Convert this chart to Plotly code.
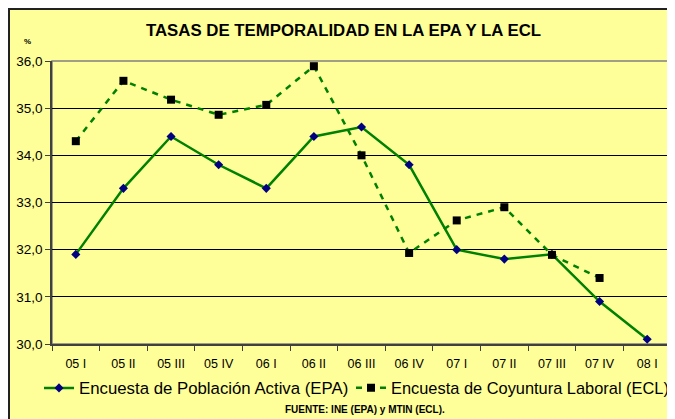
import plotly.graph_objects as go

categories = ["05 I", "05 II", "05 III", "05 IV", "06 I", "06 II", "06 III",
              "06 IV", "07 I", "07 II", "07 III", "07 IV", "08 I"]
epa = [31.9, 33.3, 34.4, 33.8, 33.3, 34.4, 34.6, 33.8, 32.0, 31.8, 31.9, 30.9, 30.1]
ecl = [34.3, 35.58, 35.18, 34.86, 35.07, 35.89, 34.0, 31.93, 32.62, 32.9, 31.89, 31.4, None]

# the page body has an 8px margin; work in page pixels and convert
OFF = 8
W, H = 675 - OFF, 419 - OFF
PL, PR, PT, PB = 52, 671, 61, 344          # plot area in page pixels
L, T = PL - OFF, PT - OFF
R, B = W - (PR - OFF), H - (PB - OFF)
pw, ph = W - L - R, H - T - B

def px(x):
    return (x - OFF - L) / pw

def py(y):
    return (H - B - (y - OFF)) / ph

def cx(x):
    return (x - OFF) / W

def cy(y):
    return (H - (y - OFF)) / H

FONT = "Liberation Sans, Arial, sans-serif"

fig = go.Figure()
fig.add_trace(go.Scatter(
    x=categories, y=epa, name="Encuesta de Población Activa (EPA)",
    mode="lines+markers",
    line=dict(color="#008000", width=2.5),
    marker=dict(symbol="diamond", color="#000080", size=7),
    legend="legend",
))
fig.add_trace(go.Scatter(
    x=categories, y=ecl, name="Encuesta de Coyuntura Laboral (ECL)",
    mode="lines+markers",
    line=dict(color="#008000", width=2.5, dash="6px,6px"),
    marker=dict(symbol="square", color="#000000", size=8),
    legend="legend2",
))

fig.update_layout(
    width=W, height=H,
    margin=dict(l=L, r=R, t=T, b=B, autoexpand=False),
    paper_bgcolor="white",
    plot_bgcolor="#FFFF99",
    separators=",.",
    font=dict(family=FONT, color="black"),
    showlegend=True,
    legend=dict(orientation="h", xref="container", yref="container",
                x=cx(39), xanchor="left", y=cy(388), yanchor="middle",
                font=dict(size=16.8, family=FONT), bgcolor="rgba(0,0,0,0)"),
    legend2=dict(orientation="h", xref="container", yref="container",
                 x=cx(351), xanchor="left", y=cy(388), yanchor="middle",
                 font=dict(size=16.4, family=FONT), bgcolor="rgba(0,0,0,0)"),
    xaxis=dict(type="category", range=[-0.5, 12.5], showgrid=False,
               ticks="outside", tickson="boundaries", ticklen=5,
               tickcolor="#404040", showline=True, linecolor="#404040",
               linewidth=1.5, automargin=False, ticklabelstandoff=7,
               tickfont=dict(size=12.5, family=FONT)),
    yaxis=dict(range=[30, 36], dtick=1, tickformat=".1f", showgrid=True,
               gridcolor="black", gridwidth=1, ticks="outside", ticklen=5,
               tickcolor="#404040", showline=True, linecolor="#404040",
               linewidth=1.5, zeroline=False, automargin=False,
               tickfont=dict(size=13.5, family=FONT)),
    shapes=[
        dict(type="rect", xref="paper", yref="paper",
             x0=px(9), x1=px(680), y0=py(430), y1=py(9),
             fillcolor="#FFFF99", line=dict(color="#222222", width=2),
             layer="below"),
        dict(type="rect", xref="paper", yref="paper",
             x0=0, x1=1, y0=0, y1=1,
             line=dict(color="#808080", width=1.5), layer="below"),
    ],
    annotations=[
        dict(text="<b>TASAS DE TEMPORALIDAD EN LA EPA Y LA ECL</b>",
             xref="paper", yref="paper", x=px(343), y=py(31),
             xanchor="center", yanchor="middle", showarrow=False,
             font=dict(size=16.8, family=FONT)),
        dict(text="<b>%</b>", xref="paper", yref="paper", x=px(27), y=py(42),
             xanchor="center", yanchor="middle", showarrow=False,
             font=dict(size=8, family=FONT)),
        dict(text="<b>FUENTE: INE (EPA) y MTIN (ECL).</b>",
             xref="paper", yref="paper", x=px(365), y=py(410),
             xanchor="center", yanchor="middle", showarrow=False,
             font=dict(size=10, family=FONT)),
    ],
)

fig.write_html("out.html")
